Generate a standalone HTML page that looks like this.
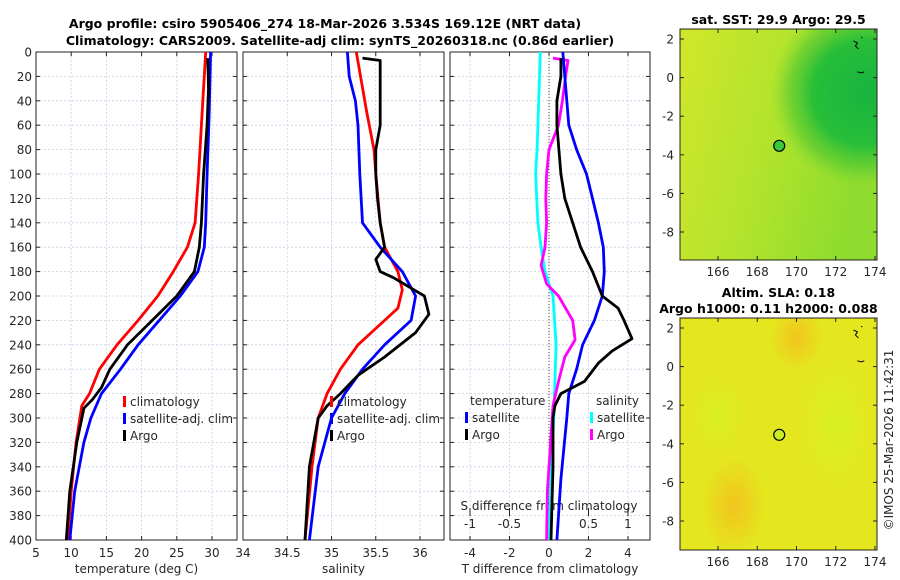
<!DOCTYPE html>
<html><head><meta charset="utf-8">
<style>
body{margin:0;background:#fff;}
svg{display:block;font-family:"DejaVu Sans","Liberation Sans",sans-serif;}
.t{font-size:12px;fill:#262626;}
.ttl{font-size:12.5px;font-weight:bold;fill:#000;}
</style></head>
<body>
<svg id="fig" width="900" height="580" viewBox="0 0 900 580">
<defs>
<radialGradient id="g1" cx="0.5" cy="0.5" r="0.5"><stop offset="0" stop-color="#18b440"/><stop offset="0.55" stop-color="#28be38"/><stop offset="0.8" stop-color="#50c832" stop-opacity="0.6"/><stop offset="1" stop-color="#80d830" stop-opacity="0"/></radialGradient>
<linearGradient id="g1b" x1="0" y1="0" x2="1" y2="0.3"><stop offset="0" stop-color="#d2e62a"/><stop offset="0.5" stop-color="#b4e42c"/><stop offset="1" stop-color="#90dc2e"/></linearGradient>
<radialGradient id="g2" cx="0.5" cy="0.5" r="0.5"><stop offset="0" stop-color="#f2c41e"/><stop offset="1" stop-color="#f2c41e" stop-opacity="0"/></radialGradient>
<radialGradient id="g3" cx="0.5" cy="0.5" r="0.5"><stop offset="0" stop-color="#d8f020"/><stop offset="1" stop-color="#d8f020" stop-opacity="0"/></radialGradient>
<clipPath id="c1"><rect x="680" y="29" width="197" height="231"/></clipPath>
<clipPath id="c2"><rect x="680" y="318" width="197" height="232"/></clipPath>
</defs>
<text class="ttl" x="325" y="28" text-anchor="middle">Argo profile: csiro 5905406_274 18-Mar-2026 3.534S 169.12E (NRT data)</text>
<text class="ttl" x="340" y="45" text-anchor="middle">Climatology: CARS2009. Satellite-adj clim: synTS_20260318.nc (0.86d earlier)</text>
<g id="p1"></g>
<g id="p2"></g>
<g id="p3"></g>
<g id="m1"></g>
<g id="m2"></g>
<text class="t" transform="translate(893,440) rotate(-90)" text-anchor="middle">©IMOS 25-Mar-2026 11:42:31</text>
</svg>
<script>
// ---- data ----
const tempDepthClim=[0,50,100,140,160,180,200,220,240,260,280,290,320,360,400];
const tempClim=[29.1,28.6,28.1,27.6,26.5,24.5,22.3,19.5,16.5,14,12.6,11.5,10.7,10,9.5];
const tempDepthSat=[0,50,100,140,160,180,200,220,240,260,280,300,320,360,400];
const tempSat=[29.8,29.6,29.3,29.1,28.9,28,25.5,22.5,19.5,17,14.3,12.8,11.8,10.5,9.8];
const tempDepthArgo=[5,30,60,100,140,160,180,200,220,240,260,275,285,292,320,360,400];
const tempArgo=[29.4,29.5,29.3,28.8,28.5,28.2,27.5,25,21.5,18,15.5,14.3,13,11.8,10.8,9.8,9.3];
const salDepthClim=[0,50,80,100,140,160,180,195,210,220,240,260,280,300,340,400];
const salClim=[35.28,35.4,35.48,35.5,35.55,35.6,35.75,35.8,35.75,35.6,35.3,35.1,34.95,34.85,34.78,34.7];
const salDepthSat=[0,20,40,60,100,140,160,180,200,220,240,260,280,300,340,400];
const salSat=[35.18,35.2,35.27,35.3,35.32,35.35,35.55,35.8,35.95,35.9,35.6,35.35,35.15,35.0,34.85,34.75];
const salDepthArgo=[5,7,20,40,60,80,100,120,140,160,170,180,185,200,215,230,250,265,280,290,300,340,400];
const salArgo=[35.35,35.55,35.55,35.55,35.55,35.5,35.5,35.52,35.55,35.6,35.5,35.55,35.7,36.05,36.1,35.95,35.6,35.3,35.1,34.95,34.85,34.75,34.7];
const dSDepthSat=[0,40,80,100,140,160,180,200,240,300,360,400];
const dSSat=[-0.11,-0.13,-0.15,-0.17,-0.14,-0.1,-0.05,0.05,0.09,0.06,0.02,0];
const dSDepthArgo=[5,7,20,40,60,80,100,120,140,160,175,190,200,220,236,250,270,290,320,360,400];
const dSArgo=[0.05,0.24,0.21,0.17,0.12,0,-0.03,-0.04,-0.03,-0.05,-0.1,-0.03,0.12,0.3,0.33,0.2,0.12,0.05,0.02,-0.02,-0.03];
const dTDepthSat=[0,40,60,80,100,120,140,160,180,200,220,240,260,280,300,350,400];
const dTSat=[0.7,0.9,1.0,1.4,1.9,2.2,2.5,2.75,2.8,2.7,2.3,1.7,1.4,1.0,0.9,0.6,0.4];
const dTDepthArgo=[5,20,40,60,80,100,120,140,160,180,200,210,220,235,245,255,270,280,290,300,340,400];
const dTArgo=[0.6,0.6,0.4,0.4,0.5,0.6,0.8,1.2,1.6,2.2,2.7,3.5,3.8,4.2,3.2,2.5,1.8,0.6,0.3,0.2,0.2,0.1];
const depthTicks=[0,20,40,60,80,100,120,140,160,180,200,220,240,260,280,300,320,340,360,380,400];
const tempTicks=[5,10,15,20,25,30];
const salTicks=[34,34.5,35,35.5,36];
const dTTicks=[-4,-2,0,2,4];
const dSTicks=[-1,-0.5,0,0.5,1];
const lonTicks=[166,168,170,172,174];
const latTicks=[2,0,-2,-4,-6,-8];
const argoLon=169.12, argoLat=-3.534;

const NS='http://www.w3.org/2000/svg';
function mk(tag,attrs,parent){const e=document.createElementNS(NS,tag);for(const k in attrs)e.setAttribute(k,attrs[k]);parent.appendChild(e);return e;}
const Y0=52,Y1=540;
const yD=d=>Y0+d/400*(Y1-Y0);
function lin(d0,d1,r0,r1){return v=>r0+(v-d0)/(d1-d0)*(r1-r0);}

function panel(g,x0,x1,xs,xt,xlab,showY){
  const grid=mk('g',{},g);
  
  
  depthTicks.forEach(d=>{mk('line',{x1:x0,x2:x1,y1:yD(d),y2:yD(d),stroke:'#c8cfe6','stroke-width':0.8,'stroke-dasharray':'2,2'},grid);
    mk('line',{x1:x0,x2:x0+4,y1:yD(d),y2:yD(d),stroke:'#222'},grid);mk('line',{x1:x1-4,x2:x1,y1:yD(d),y2:yD(d),stroke:'#222'},grid);
    if(showY){const t=mk('text',{x:x0-4,y:yD(d)+4.5,'text-anchor':'end',class:'t'},g);t.textContent=d;}});
  xt.forEach(v=>{const x=xs(v);mk('line',{x1:x,x2:x,y1:Y0,y2:Y1,stroke:'#c8cfe6','stroke-width':0.8,'stroke-dasharray':'2,2'},grid);
    mk('line',{x1:x,x2:x,y1:Y1-4,y2:Y1,stroke:'#222'},grid);mk('line',{x1:x,x2:x,y1:Y0,y2:Y0+4,stroke:'#222'},grid);
    const t=mk('text',{x:x,y:Y1+17,'text-anchor':'middle',class:'t'},g);t.textContent=v;});
  const ax=mk('rect',{x:x0,y:Y0,width:x1-x0,height:Y1-Y0,fill:'none',stroke:'#222','stroke-width':1},g);
  
  const l=mk('text',{x:(x0+x1)/2,y:Y1+33,'text-anchor':'middle',class:'t'},g);l.textContent=xlab;
  
}
function line(g,xs,vals,depths,color,name){
  const p=vals.map((v,i)=>xs(v).toFixed(1)+','+yD(depths[i]).toFixed(1)).join(' ');
  const e=mk('polyline',{points:p,fill:'none',stroke:color,'stroke-width':2.8,'stroke-linejoin':'round'},g);
  
}
function legend(g,x,y,items){
  items.forEach((it,i)=>{mk('rect',{x:x,y:y+i*17-9,width:3,height:11,fill:it[1]},g);
    const t=mk('text',{x:x+7,y:y+i*17+1,class:'t'},g);t.textContent=it[0];
    });
}
// panel 1
const g1=document.getElementById('p1');const xT=lin(5,30,36,212);
panel(g1,36,237,xT,tempTicks,'temperature (deg C)',true);
line(g1,xT,tempClim,tempDepthClim,'#f00','temp-climatology-line');
line(g1,xT,tempSat,tempDepthSat,'#00f','temp-satellite-line');
line(g1,xT,tempArgo,tempDepthArgo,'#000','temp-argo-line');
legend(g1,123,405,[['climatology','#f00'],['satellite-adj. clim','#00f'],['Argo','#000']]);
// panel 2
const g2=document.getElementById('p2');const xS=lin(34,36,243,420);
panel(g2,243,444,xS,salTicks,'salinity',false);
line(g2,xS,salClim,salDepthClim,'#f00','sal-climatology-line');
line(g2,xS,salSat,salDepthSat,'#00f','sal-satellite-line');
line(g2,xS,salArgo,salDepthArgo,'#000','sal-argo-line');
legend(g2,330,405,[['climatology','#f00'],['satellite-adj. clim','#00f'],['Argo','#000']]);
// panel 3
const g3=document.getElementById('p3');const xdT=lin(0,4,549,628);const xdS=lin(0,1,549,628);
panel(g3,450,650,xdT,dTTicks,'T difference from climatology',false);
mk('line',{x1:549,x2:549,y1:Y0,y2:Y1,stroke:'#444','stroke-dasharray':'1,2'},g3);
dSTicks.forEach(v=>{const x=xdS(v);mk('line',{x1:x,x2:x,y1:Y1-32,y2:Y1-24,stroke:'#222'},g3);
  const t=mk('text',{x:x,y:Y1-12,'text-anchor':'middle',class:'t'},g3);t.textContent=v;});
const st=mk('text',{x:549,y:Y1-30,'text-anchor':'middle',class:'t'},g3);st.textContent='S difference from climatology';

line(g3,xdS,dSSat,dSDepthSat,'#0ff','sdiff-satellite-line');
line(g3,xdS,dSArgo,dSDepthArgo,'#f0f','sdiff-argo-line');
line(g3,xdT,dTSat,dTDepthSat,'#00f','tdiff-satellite-line');
line(g3,xdT,dTArgo,dTDepthArgo,'#000','tdiff-argo-line');
const lt=mk('text',{x:470,y:405,class:'t'},g3);lt.textContent='temperature';
const ls=mk('text',{x:596,y:405,class:'t'},g3);ls.textContent='salinity';
legend(g3,465,421,[['satellite','#00f'],['Argo','#000']]);
legend(g3,590,421,[['satellite','#0ff'],['Argo','#f0f']]);
// maps
function map(g,top,bot,title,kind){
  const x0=680,x1=877;const xl=lin(166,174,718,875);const yl=lin(2,-8,top+10,top+203);
  const bg=mk('rect',{x:x0,y:top,width:x1-x0,height:bot-top,fill:kind==1?'url(#g1b)':'#e4e61e'},g);
  
  const cg=mk('g',{'clip-path':kind==1?'url(#c1)':'url(#c2)'},g);
  if(kind==1){mk('ellipse',{cx:xl(173.5),cy:yl(-0.8),rx:95,ry:95,fill:'url(#g1)'},cg);}
  else{mk('ellipse',{cx:xl(166.8),cy:yl(-7.2),rx:32,ry:48,fill:'url(#g2)'},cg);
    mk('ellipse',{cx:xl(170),cy:yl(1.5),rx:26,ry:34,fill:'url(#g2)'},cg);
    mk('ellipse',{cx:xl(172),cy:yl(-3),rx:40,ry:70,fill:'url(#g3)'},cg);
    mk('ellipse',{cx:xl(166),cy:yl(-2.5),rx:30,ry:40,fill:'url(#g3)'},cg);}
  mk('rect',{x:x0,y:top,width:x1-x0,height:bot-top,fill:'none',stroke:'#222'},g);
  lonTicks.forEach(v=>{const x=xl(v);mk('line',{x1:x,x2:x,y1:bot-4,y2:bot,stroke:'#222'},g);mk('line',{x1:x,x2:x,y1:top,y2:top+4,stroke:'#222'},g);
    const t=mk('text',{x:x,y:bot+16,'text-anchor':'middle',class:'t'},g);t.textContent=v;});
  latTicks.forEach(v=>{const y=yl(v);mk('line',{x1:x0,x2:x0+4,y1:y,y2:y,stroke:'#222'},g);mk('line',{x1:x1-4,x2:x1,y1:y,y2:y,stroke:'#222'},g);
    const t=mk('text',{x:x0-6,y:y+4.5,'text-anchor':'end',class:'t'},g);t.textContent=v;});
  const c=mk('circle',{cx:xl(argoLon),cy:yl(argoLat),r:5.5,fill:kind==1?'#3cc83c':'#c8ec28',stroke:'#000','stroke-width':1.2},g);
  
  mk('path',{d:`M${xl(172.9)} ${yl(1.9)}l4 2l-2 3l3 3M${xl(173.3)} ${yl(2.1)}l1 1M${xl(173.1)} ${yl(0.3)}l4 1l3-1`,stroke:'#000',fill:'none','stroke-width':1},g);
  title.forEach((s,i)=>{const t=mk('text',{x:(x0+x1)/2-(title.length>1&&i==1?10:0),y:top-(title.length-i)*16+11,'text-anchor':'middle',class:'ttl'},g);t.textContent=s;
    });
}
map(document.getElementById('m1'),29,260,['sat. SST: 29.9 Argo: 29.5'],1);
map(document.getElementById('m2'),318,550,['Altim. SLA: 0.18','Argo h1000: 0.11 h2000: 0.088'],2);
</script>
</body></html>
